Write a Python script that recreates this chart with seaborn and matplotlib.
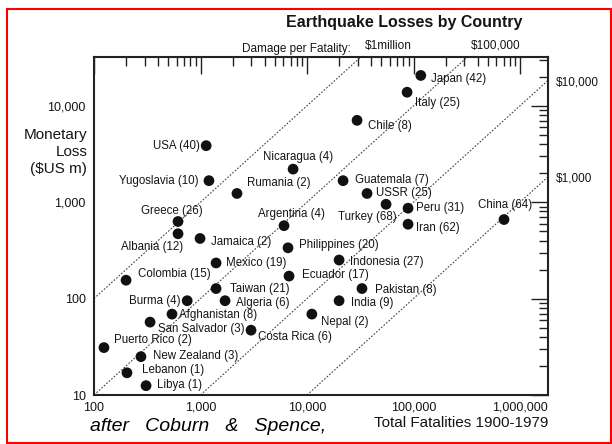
import matplotlib
matplotlib.use('Agg')
import matplotlib.pyplot as plt
import matplotlib.ticker as mticker
from matplotlib.patches import Rectangle
import seaborn as sns
import pandas as pd

# ---- Datos ------------------------------------------------------------------
countries = ['Japan', 'Italy', 'Chile', 'USA', 'Nicaragua', 'Yugoslavia', 'Rumania',
             'Guatemala', 'USSR', 'Turkey', 'Peru', 'Iran', 'China', 'Greece',
             'Albania', 'Jamaica', 'Argentina', 'Philippines', 'Mexico', 'Indonesia',
             'Colombia', 'Ecuador', 'Taiwan', 'Pakistan', 'Burma', 'Algeria', 'India',
             'Afghanistan', 'Nepal', 'San Salvador', 'Costa Rica', 'Puerto Rico',
             'New Zealand', 'Lebanon', 'Libya']
events = [42, 25, 8, 40, 4, 10, 2, 7, 25, 68, 31, 62, 64, 26, 12, 2, 4, 20, 19, 27,
          15, 17, 21, 8, 4, 6, 9, 8, 2, 3, 6, 2, 3, 1, 1]
fatalities = [117000, 87000, 29500, 1130, 7400, 1200, 2200, 21800, 36600, 55200,
              88800, 88800, 707000, 615, 615, 990, 6080, 6630, 1400, 20000,
              200, 6780, 1400, 32800, 750, 1700, 20000, 540, 11100, 336,
              2980, 124, 276, 204, 308]
losses = [20600, 13800, 7050, 3850, 2200, 1670, 1230, 1670, 1230, 950,
          865, 590, 660, 630, 470, 420, 570, 336, 234, 251,
          155, 171, 127, 127, 95, 95, 95, 69, 69, 57,
          47, 31, 25, 17, 12.5]

# daño por víctima ($m por víctima) y sus etiquetas
damage_ratios = [1.0, 0.1, 0.01, 0.001]
damage_labels = ['$1million', '$100,000', '$10,000', '$1,000']

x_ticks = [100, 1000, 10000, 100000, 1000000]
y_ticks = [10, 100, 1000, 10000]

# posición de las etiquetas (pixeles: dx, dy hacia abajo, alineación)
label_pos = {
    'Japan': (10, 4, 'left'), 'Italy': (8, 11, 'left'), 'Chile': (11, 6, 'left'),
    'USA': (-6, 0, 'right'), 'Nicaragua': (-30, -12, 'left'),
    'Yugoslavia': (-10, 0, 'right'), 'Rumania': (10, -10, 'left'),
    'Guatemala': (12, -1, 'left'), 'USSR': (9, 0, 'left'), 'Turkey': (11, 13, 'right'),
    'Peru': (8, 0, 'left'), 'Iran': (8, 4, 'left'), 'China': (1, -15, 'center'),
    'Greece': (-6, -10, 'center'), 'Albania': (5, 13, 'right'),
    'Jamaica': (11, 4, 'left'), 'Argentina': (7, -12, 'center'),
    'Philippines': (11, -3, 'left'), 'Mexico': (10, 0, 'left'),
    'Indonesia': (11, 2, 'left'), 'Colombia': (12, -6, 'left'),
    'Ecuador': (13, -1, 'left'), 'Taiwan': (14, 0, 'left'), 'Pakistan': (13, 1, 'left'),
    'Burma': (-7, 0, 'right'), 'Algeria': (11, 2, 'left'), 'India': (12, 2, 'left'),
    'Afghanistan': (7, 1, 'left'), 'Nepal': (9, 8, 'left'),
    'San Salvador': (8, 7, 'left'), 'Costa Rica': (7, 7, 'left'),
    'Puerto Rico': (10, -8, 'left'), 'New Zealand': (12, -1, 'left'),
    'Lebanon': (15, -3, 'left'), 'Libya': (11, -1, 'left'),
}

df = pd.DataFrame({'country': countries, 'events': events,
                   'fatalities': fatalities, 'loss': losses})

# ---- Estilo ------------------------------------------------------------------
sns.set_theme(style='white')
plt.rcParams['font.family'] = ['Liberation Sans', 'DejaVu Sans']
txt = '#151515'

fig = plt.figure(figsize=(6.12, 4.44), dpi=100)
ax = fig.add_axes([94 / 612, 1 - 395 / 444, 454 / 612, 338 / 444])

sns.scatterplot(data=df, x='fatalities', y='loss', color='#111111', s=60,
                edgecolor='none', ax=ax, zorder=3, legend=False)
ax.set_xscale('log')
ax.set_yscale('log')
xmin, xmax = 100, 1.83e6
ymin, ymax = 10, 32000
ax.set_xlim(xmin, xmax)
ax.set_ylim(ymin, ymax)

# líneas diagonales de daño por víctima
for r, lab in zip(damage_ratios, damage_labels):
    ax.axline((100, 100 * r), (1e6, 1e6 * r), color='#444444', lw=0.8,
              linestyle=(0, (1.5, 1.5)), zorder=2)
    if ymax / r <= xmax:
        ax.annotate(lab, xy=(ymax / r, ymax), xytext=(4, 11), textcoords='offset pixels',
                    ha='left', va='center', fontsize=8.5, color=txt, annotation_clip=False)
    else:
        ax.annotate(lab, xy=(xmax, xmax * r), xytext=(8, -2), textcoords='offset pixels',
                    ha='left', va='center', fontsize=8.5, color=txt, annotation_clip=False)

# etiquetas de países
for c, n, fx, ly in zip(countries, events, fatalities, losses):
    dx, dy, ha = label_pos[c]
    ax.annotate(f'{c} ({n})', xy=(fx, ly), xytext=(dx, -dy), textcoords='offset pixels',
                ha=ha, va='center', fontsize=8.3, color=txt, zorder=4)

# ejes y marcas
fmt = mticker.FuncFormatter(lambda v, p: f'{v:,.0f}')
ax.xaxis.set_major_locator(mticker.FixedLocator(x_ticks))
ax.yaxis.set_major_locator(mticker.FixedLocator(y_ticks))
ax.xaxis.set_major_formatter(fmt)
ax.yaxis.set_major_formatter(fmt)
ax.xaxis.set_minor_locator(mticker.LogLocator(base=10, subs=range(2, 10), numticks=20))
ax.yaxis.set_minor_locator(mticker.LogLocator(base=10, subs=range(2, 10), numticks=20))
ax.xaxis.set_minor_formatter(mticker.NullFormatter())
ax.yaxis.set_minor_formatter(mticker.NullFormatter())
ax.tick_params(which='both', direction='in', top=True, right=True,
               color='#222222', width=1.0)
ax.tick_params(which='major', length=12, labelsize=9, labelcolor=txt)
ax.tick_params(axis='x', which='major', pad=5)
ax.tick_params(axis='y', which='major', pad=6)
ax.tick_params(which='minor', length=6.5)
for s in ax.spines.values():
    s.set_linewidth(1.5)
    s.set_color('#222222')
ax.grid(False)

ax.set_ylabel('Monetary\nLoss\n($US m)', rotation=0, ha='right', va='center',
              multialignment='right', fontsize=11, color=txt, linespacing=1.25)
ax.yaxis.set_label_coords(-0.015, (395 - 152) / 338)
ax.set_xlabel('Total Fatalities 1900-1979', ha='right', va='center',
              fontsize=11, color=txt)
ax.xaxis.set_label_coords(1.0, (395 - 423) / 338)

# textos de la figura
fig.text(404 / 612, 1 - 23 / 444, 'Earthquake Losses by Country', ha='center',
         va='center', fontsize=11.5, fontweight='bold', color=txt)
fig.text(242 / 612, 1 - 49 / 444, 'Damage per Fatality:', ha='left', va='center',
         fontsize=8.5, color=txt)
fig.text(90 / 612, 1 - 426 / 444, 'after   Coburn   &   Spence,', ha='left',
         va='center', fontsize=14, style='italic', color='black')

# marco rojo
fig.patches.append(Rectangle((7 / 612, 1 / 444), 604 / 612, 434 / 444,
                             transform=fig.transFigure, fill=False,
                             edgecolor='red', lw=1.5))

fig.savefig('out.png', dpi=100)
plt.close()
